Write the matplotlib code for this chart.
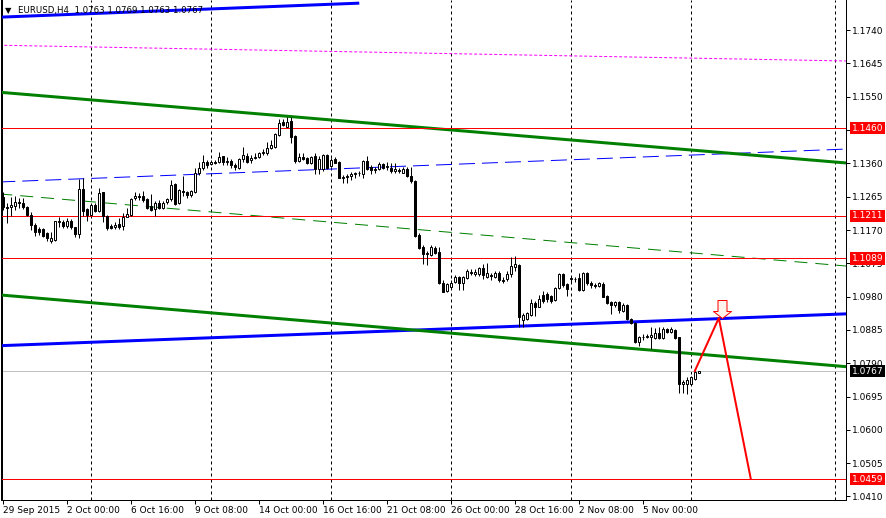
import matplotlib
matplotlib.use('Agg')
import matplotlib.pyplot as plt
import matplotlib.transforms as mtransforms
from matplotlib.path import Path
import numpy as np

# EURUSD H4 candles, one per bar (bar 0 = 29 Sep 2015 08:00)
opens = [
    1.1264, 1.1236, 1.1236, 1.1238, 1.1250, 1.1247, 1.1236, 1.1213, 1.1184, 1.1173,
    1.1173, 1.1161, 1.1139, 1.1142, 1.1193, 1.1193, 1.1181, 1.1196, 1.1179, 1.1159,
    1.1287, 1.1230, 1.1213, 1.1241, 1.1224, 1.1278, 1.1210, 1.1181, 1.1179, 1.1187,
    1.1181, 1.1207, 1.1213, 1.1261, 1.1267, 1.1267, 1.1258, 1.1238, 1.1230, 1.1247,
    1.1233, 1.1250, 1.1258, 1.1301, 1.1247, 1.1281, 1.1278, 1.1270, 1.1278, 1.1332,
    1.1347, 1.1364, 1.1358, 1.1364, 1.1364, 1.1381, 1.1364, 1.1367, 1.1355, 1.1347,
    1.1372, 1.1381, 1.1370, 1.1375, 1.1378, 1.1389, 1.1389, 1.1404, 1.1407, 1.1441,
    1.1478, 1.1464, 1.1481, 1.1438, 1.1367, 1.1378, 1.1375, 1.1361, 1.1381, 1.1344,
    1.1344, 1.1384, 1.1352, 1.1372, 1.1364, 1.1318, 1.1321, 1.1324, 1.1330, 1.1332,
    1.1330, 1.1367, 1.1350, 1.1341, 1.1344, 1.1358, 1.1350, 1.1347, 1.1338, 1.1341,
    1.1332, 1.1344, 1.1324, 1.1310, 1.1156, 1.1122, 1.1102, 1.1099, 1.1119, 1.1107,
    1.1019, 1.0996, 1.1008, 1.1022, 1.1036, 1.1019, 1.1033, 1.1050, 1.1045, 1.1045,
    1.1062, 1.1036, 1.1042, 1.1036, 1.1047, 1.1028, 1.1030, 1.1045, 1.1065, 1.1070,
    1.0914, 1.0916, 1.0928, 1.0962, 1.0951, 1.0985, 1.0988, 1.0982, 1.0971, 1.1005,
    1.1045, 1.1016, 1.1033, 1.1030, 1.1033, 1.0999, 1.1047, 1.1019, 1.1013, 1.1010,
    1.1016, 1.0982, 1.0965, 1.0956, 1.0965, 1.0939, 1.0956, 1.0916, 1.0905, 1.0851,
    1.0865, 1.0866, 1.0865, 1.0862, 1.0876, 1.0862, 1.0888, 1.0879, 1.0885, 1.0865,
    1.0731, 1.0731, 1.0731, 1.0745, 1.0763,
]
highs = [
    1.1278, 1.1247, 1.1264, 1.1267, 1.1261, 1.1261, 1.1238, 1.1221, 1.1190, 1.1179,
    1.1176, 1.1164, 1.1164, 1.1196, 1.1207, 1.1199, 1.1204, 1.1202, 1.1179, 1.1315,
    1.1318, 1.1233, 1.1244, 1.1247, 1.1290, 1.1278, 1.1213, 1.1187, 1.1193, 1.1204,
    1.1218, 1.1233, 1.1261, 1.1278, 1.1275, 1.1281, 1.1261, 1.1273, 1.1253, 1.1256,
    1.1253, 1.1261, 1.1313, 1.1304, 1.1287, 1.1324, 1.1281, 1.1284, 1.1347, 1.1364,
    1.1384, 1.1370, 1.1370, 1.1370, 1.1392, 1.1381, 1.1378, 1.1372, 1.1361, 1.1375,
    1.1407, 1.1389, 1.1384, 1.1389, 1.1392, 1.1401, 1.1421, 1.1427, 1.1447, 1.1486,
    1.1486, 1.1492, 1.1492, 1.1441, 1.1389, 1.1389, 1.1378, 1.1381, 1.1389, 1.1381,
    1.1387, 1.1387, 1.1375, 1.1378, 1.1367, 1.1327, 1.1330, 1.1335, 1.1335, 1.1338,
    1.1370, 1.1381, 1.1355, 1.1350, 1.1364, 1.1361, 1.1364, 1.1361, 1.1361, 1.1347,
    1.1350, 1.1350, 1.1350, 1.1313, 1.1161, 1.1127, 1.1110, 1.1127, 1.1124, 1.1122,
    1.1028, 1.1019, 1.1028, 1.1042, 1.1039, 1.1039, 1.1059, 1.1059, 1.1059, 1.1065,
    1.1073, 1.1076, 1.1047, 1.1053, 1.1053, 1.1036, 1.1053, 1.1093, 1.1096, 1.1073,
    1.0933, 1.0936, 1.0973, 1.0968, 1.0985, 1.0996, 1.0993, 1.0985, 1.1008, 1.1047,
    1.1047, 1.1019, 1.1036, 1.1036, 1.1047, 1.1050, 1.1050, 1.1025, 1.1019, 1.1022,
    1.1022, 1.0985, 1.0968, 1.0968, 1.0968, 1.0962, 1.0959, 1.0919, 1.0908, 1.0868,
    1.0874, 1.0874, 1.0894, 1.0891, 1.0894, 1.0894, 1.0891, 1.0894, 1.0888, 1.0865,
    1.0743, 1.0751, 1.0754, 1.0768, 1.0769,
]
lows = [
    1.1227, 1.1190, 1.1210, 1.1227, 1.1233, 1.1230, 1.1210, 1.1170, 1.1153, 1.1156,
    1.1150, 1.1139, 1.1133, 1.1139, 1.1179, 1.1176, 1.1176, 1.1173, 1.1150, 1.1147,
    1.1210, 1.1196, 1.1210, 1.1221, 1.1221, 1.1193, 1.1170, 1.1173, 1.1173, 1.1173,
    1.1170, 1.1207, 1.1210, 1.1256, 1.1256, 1.1250, 1.1230, 1.1224, 1.1210, 1.1230,
    1.1230, 1.1244, 1.1253, 1.1241, 1.1244, 1.1267, 1.1261, 1.1264, 1.1275, 1.1327,
    1.1341, 1.1347, 1.1355, 1.1358, 1.1361, 1.1355, 1.1355, 1.1347, 1.1341, 1.1344,
    1.1364, 1.1361, 1.1361, 1.1372, 1.1375, 1.1384, 1.1384, 1.1401, 1.1404, 1.1438,
    1.1466, 1.1464, 1.1418, 1.1361, 1.1364, 1.1370, 1.1358, 1.1358, 1.1330, 1.1330,
    1.1338, 1.1344, 1.1350, 1.1361, 1.1318, 1.1304, 1.1304, 1.1313, 1.1318, 1.1324,
    1.1318, 1.1341, 1.1330, 1.1332, 1.1341, 1.1344, 1.1341, 1.1332, 1.1332, 1.1332,
    1.1332, 1.1321, 1.1304, 1.1150, 1.1116, 1.1073, 1.1070, 1.1096, 1.1102, 1.1016,
    1.0993, 1.0993, 1.1005, 1.1019, 1.0999, 1.0999, 1.1030, 1.1042, 1.1039, 1.1039,
    1.1030, 1.1033, 1.1028, 1.1033, 1.1022, 1.1019, 1.1025, 1.1036, 1.1053, 1.0894,
    1.0894, 1.0914, 1.0925, 1.0925, 1.0951, 1.0962, 1.0965, 1.0962, 1.0968, 1.1002,
    1.1008, 1.0982, 1.1022, 1.1022, 1.0996, 1.0996, 1.1013, 1.1005, 1.1005, 1.1008,
    1.0979, 1.0959, 1.0931, 1.0951, 1.0933, 1.0936, 1.0914, 1.0902, 1.0848, 1.0839,
    1.0857, 1.0862, 1.0831, 1.0859, 1.0859, 1.0859, 1.0876, 1.0876, 1.0859, 1.0705,
    1.0705, 1.0703, 1.0728, 1.0743, 1.0763,
]
closes = [
    1.1236, 1.1233, 1.1241, 1.1250, 1.1247, 1.1236, 1.1213, 1.1184, 1.1164, 1.1164,
    1.1153, 1.1147, 1.1147, 1.1196, 1.1195, 1.1181, 1.1196, 1.1179, 1.1159, 1.1287,
    1.1224, 1.1213, 1.1241, 1.1224, 1.1275, 1.1210, 1.1176, 1.1176, 1.1184, 1.1179,
    1.1207, 1.1216, 1.1258, 1.1267, 1.1264, 1.1256, 1.1233, 1.1227, 1.1247, 1.1233,
    1.1247, 1.1258, 1.1298, 1.1244, 1.1284, 1.1278, 1.1270, 1.1281, 1.1332, 1.1347,
    1.1364, 1.1355, 1.1364, 1.1362, 1.1378, 1.1364, 1.1367, 1.1355, 1.1350, 1.1372,
    1.1384, 1.1364, 1.1375, 1.1378, 1.1389, 1.1392, 1.1404, 1.1412, 1.1444, 1.1475,
    1.1469, 1.1478, 1.1435, 1.1367, 1.1378, 1.1372, 1.1361, 1.1378, 1.1344, 1.1372,
    1.1384, 1.1347, 1.1370, 1.1361, 1.1318, 1.1321, 1.1324, 1.1330, 1.1332, 1.1333,
    1.1367, 1.1344, 1.1341, 1.1344, 1.1358, 1.1347, 1.1352, 1.1338, 1.1344, 1.1338,
    1.1344, 1.1324, 1.1310, 1.1153, 1.1119, 1.1102, 1.1104, 1.1122, 1.1104, 1.1019,
    1.0993, 1.1016, 1.1019, 1.1036, 1.1019, 1.1036, 1.1053, 1.1047, 1.1050, 1.1062,
    1.1042, 1.1047, 1.1039, 1.1047, 1.1028, 1.1025, 1.1045, 1.1067, 1.1073, 1.0922,
    1.0928, 1.0933, 1.0962, 1.0951, 1.0973, 1.0968, 1.0973, 1.0968, 1.1005, 1.1045,
    1.1013, 1.1002, 1.1030, 1.1031, 1.0999, 1.1047, 1.1019, 1.1013, 1.1010, 1.1019,
    1.0979, 1.0962, 1.0956, 1.0965, 1.0942, 1.0956, 1.0916, 1.0905, 1.0851, 1.0865,
    1.0866, 1.0868, 1.0871, 1.0876, 1.0862, 1.0888, 1.0879, 1.0888, 1.0862, 1.0731,
    1.0737, 1.0743, 1.0751, 1.0765, 1.0767,
]

time_ticks = [0, 16, 32, 48, 64, 80, 96, 112, 128, 144, 160]
time_labels = ['29 Sep 2015', '2 Oct 00:00', '6 Oct 16:00', '9 Oct 08:00',
               '14 Oct 00:00', '16 Oct 16:00', '21 Oct 08:00', '26 Oct 00:00',
               '28 Oct 16:00', '2 Nov 08:00', '5 Nov 00:00']
week_bars = [22, 52, 82, 112, 142, 172, 208]
price_ticks = [1.1740, 1.1645, 1.1550, 1.1455, 1.1360, 1.1265, 1.1170, 1.1075,
               1.0980, 1.0885, 1.0790, 1.0695, 1.0600, 1.0505, 1.0410]
hidden_ticks = [1.1455]  # fully covered by the 1.1460 level box

levels = [1.1460, 1.1211, 1.1089, 1.0459]
last_price = closes[-1]

# trend lines as (bars, prices)
blue_top = ([-1, 89], [1.1777, 1.1817])
blue_low = ([-1, 211], [1.0840, 1.0931])
green_top = ([-1, 211], [1.1563, 1.1361])
green_low = ([-1, 211], [1.0985, 1.0780])
blue_dash = ([-1, 211], [1.1307, 1.1401])
green_dash = ([-1, 211], [1.1273, 1.1067])
magenta_dot = ([-1, 211], [1.1697, 1.1652])

zigzag_bars = [172.9, 178.9, 186.9]
zigzag_prices = [1.0768, 1.0919, 1.0460]
arrow_bar, arrow_price = 179.7, 1.0919

px = 0.72  # one pixel in points at dpi 100
W, H = 886, 518

fig = plt.figure(figsize=(W / 100, H / 100), dpi=100)
fig.patch.set_facecolor('white')
ax = fig.add_axes([2 / W, 18 / H, 844 / W, 500 / H])
ax.set_facecolor('white')

# weekly grid
for b in week_bars:
    ax.axvline(b, color='black', lw=px, ls=(0, (3, 3)), zorder=1)

# drawn objects
ax.plot(*blue_top, color='#0000FF', lw=3 * px, solid_capstyle='butt', zorder=3)
ax.plot(*blue_low, color='#0000FF', lw=3 * px, zorder=3)
ax.plot(*green_top, color='#008000', lw=3 * px, zorder=3)
ax.plot(*green_low, color='#008000', lw=3 * px, zorder=3)
ax.plot(*blue_dash, color='#0000FF', lw=px, ls=(0, (16, 7)), zorder=2)
ax.plot(*green_dash, color='#008000', lw=px, ls=(0, (13, 8)), zorder=2)
ax.plot(*magenta_dot, color='#FF00FF', lw=px, ls=(0, (3, 2)), zorder=2)

for lv in levels:
    ax.axhline(lv, color='#FF0000', lw=px, zorder=4)
ax.axhline(last_price, color='#C0C0C0', lw=px, zorder=2)

# candles
x = np.arange(len(opens))
o = np.array(opens)
h = np.array(highs)
l = np.array(lows)
c = np.array(closes)
up = c >= o
bottom = np.minimum(o, c)
height = np.maximum(np.abs(c - o), 0.00003)
ax.vlines(x, l, h, color='black', lw=px, zorder=5)
ax.bar(x[up], height[up], bottom=bottom[up], width=0.5, facecolor='white',
       edgecolor='black', linewidth=px, zorder=6)
ax.bar(x[~up], height[~up], bottom=bottom[~up], width=0.5, facecolor='black',
       edgecolor='black', linewidth=px, zorder=6)

# projection
ax.plot(zigzag_bars, zigzag_prices, color='#FF0000', lw=2 * px, zorder=7)
arrow = Path([(0, 0), (-9, 7), (-4.5, 7), (-4.5, 18), (4.5, 18), (4.5, 7), (9, 7), (0, 0)],
             [Path.MOVETO] + [Path.LINETO] * 6 + [Path.CLOSEPOLY])
ax.plot([arrow_bar], [arrow_price], marker=arrow, markersize=36 * px,
        markerfacecolor='#FFF4EC', markeredgecolor='#FF0000', markeredgewidth=px,
        linestyle='none', zorder=8)

ax.set_xlim(-0.325, 210.7)
ax.set_ylim(1.0400, 1.1826)

ax.yaxis.tick_right()
ax.set_yticks(price_ticks)
ax.set_yticklabels(['' if p in hidden_ticks else '%.4f' % p for p in price_ticks])
ax.set_xticks(time_ticks)
ax.set_xticklabels(time_labels)
for lbl in ax.get_xticklabels():
    lbl.set_horizontalalignment('left')
ax.tick_params(axis='both', direction='out', length=4 * px, width=px,
               colors='black', labelsize=6.5)
ax.tick_params(axis='y', pad=1.5)
ax.tick_params(axis='x', pad=1.5)

ax.spines['top'].set_visible(False)
for s in ['left', 'right', 'bottom']:
    ax.spines[s].set_linewidth(px)
    ax.spines[s].set_color('black')
ax.spines['left'].set_linewidth(2 * px)

# price boxes on the right scale
trans = mtransforms.blended_transform_factory(ax.transAxes, ax.transData)
for lv in levels:
    ax.text(1 + 6 / 844, lv, '%.4f' % lv, transform=trans, color='white',
            fontsize=6.5, va='center', ha='left', clip_on=False, zorder=10,
            bbox=dict(boxstyle='square,pad=0.18', fc='#FF0000', ec='none'))
ax.text(1 + 6 / 844, last_price, '%.4f' % last_price, transform=trans, color='white',
        fontsize=6.5, va='center', ha='left', clip_on=False, zorder=10,
        bbox=dict(boxstyle='square,pad=0.18', fc='black', ec='none'))

# header
fig.text(5 / W, 1 - 11 / H, '\u25bc', fontsize=6, va='center', ha='left', color='black')
fig.text(18 / W, 1 - 11 / H,
         'EURUSD,H4  %.4f %.4f %.4f %.4f' % (opens[-1], highs[-1], lows[-1], closes[-1]),
         fontsize=6.2, va='center', ha='left', color='black')

fig.savefig('out.png', dpi=100, facecolor='white')
